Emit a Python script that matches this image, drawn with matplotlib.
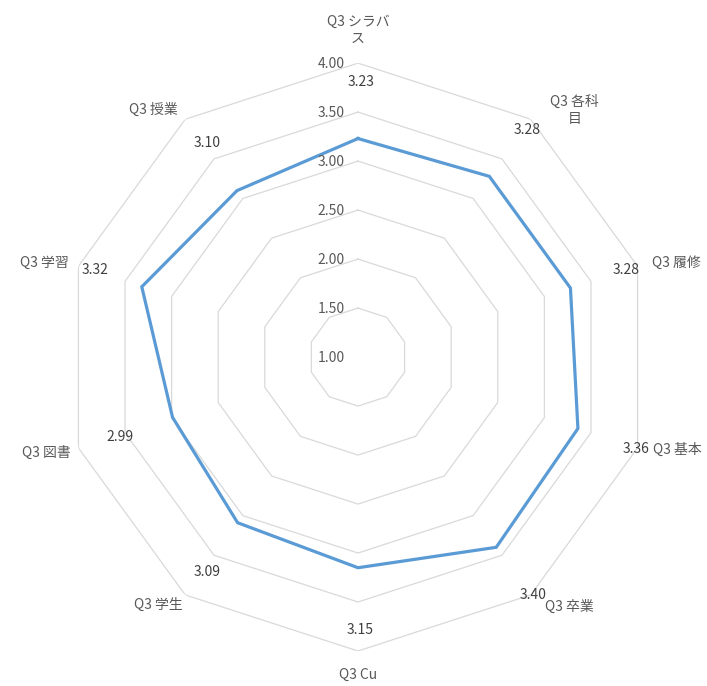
import numpy as np
import matplotlib
matplotlib.use("Agg")
import matplotlib.pyplot as plt

plt.rcParams['font.family'] = ['Noto Sans CJK JP', 'DejaVu Sans']

# data (clockwise from top)
categories = ["Q3 シラバ\nス", "Q3 各科\n目", "Q3 履修", "Q3 基本", "Q3 卒業",
              "Q3 Cu", "Q3 学生", "Q3 図書", "Q3 学習", "Q3 授業"]
values = [3.23, 3.28, 3.28, 3.36, 3.40, 3.15, 3.09, 2.99, 3.32, 3.10]
rings = [1.5, 2.0, 2.5, 3.0, 3.5, 4.0]
ring_labels = ["1.00", "1.50", "2.00", "2.50", "3.00", "3.50", "4.00"]

# label placement (pixel offsets from outer vertex, y up)
cat_off = [(0, 33, 'center'), (44, 9, 'center'), (14, 3, 'left'), (15, -2, 'left'),
           (14, -12, 'left'), (0, -24, 'center'), (-2, -10, 'right'), (-8, -5, 'right'),
           (-10, 3, 'right'), (-7, 9, 'right')]
val_off = [(3, -19), (-4, -11), (-11, -4), (-1, -1), (2, 0), (2, 21), (22, 23),
           (42, 11), (17, -4), (22, -24)]

n = len(categories)
theta = np.arange(n) * 2 * np.pi / n
theta_c = np.append(theta, theta[0])

fig = plt.figure(figsize=(7.07, 6.86), dpi=100)
ax = fig.add_axes([0.0905, 0.051, 0.8317, 0.857], projection='polar')
ax.set_theta_zero_location('N')
ax.set_theta_direction(-1)
ax.set_ylim(1, 4)
ax.grid(False)
ax.spines['polar'].set_visible(False)
ax.set_xticks([])
ax.set_yticks([])
ax.patch.set_alpha(0)

for r in rings:
    ax.plot(theta_c, [r] * (n + 1), color='#d9d9d9', lw=0.9, zorder=1)

ax.plot(theta_c, values + [values[0]], color='#5b9bd5', lw=2.3, zorder=3,
        solid_joinstyle='miter')

for i, lab in enumerate(ring_labels):
    r = 1.0 + 0.5 * i
    ax.annotate(lab, xy=(0, r), xytext=(-13, -1), textcoords='offset pixels',
                ha='right', va='center', fontsize=10, color='#595959',
                annotation_clip=False)

for i in range(n):
    dx, dy, ha = cat_off[i]
    ax.annotate(categories[i], xy=(theta[i], 4.0), xytext=(dx, dy),
                textcoords='offset pixels', ha=ha, va='center', fontsize=10,
                color='#595959', annotation_clip=False, linespacing=1.3,
                multialignment='center')
    vx, vy = val_off[i]
    ax.annotate(f"{values[i]:.2f}", xy=(theta[i], 4.0), xytext=(vx, vy),
                textcoords='offset pixels', ha='center', va='center', fontsize=10,
                color='#404040', annotation_clip=False)

fig.savefig("out.png", dpi=100)
